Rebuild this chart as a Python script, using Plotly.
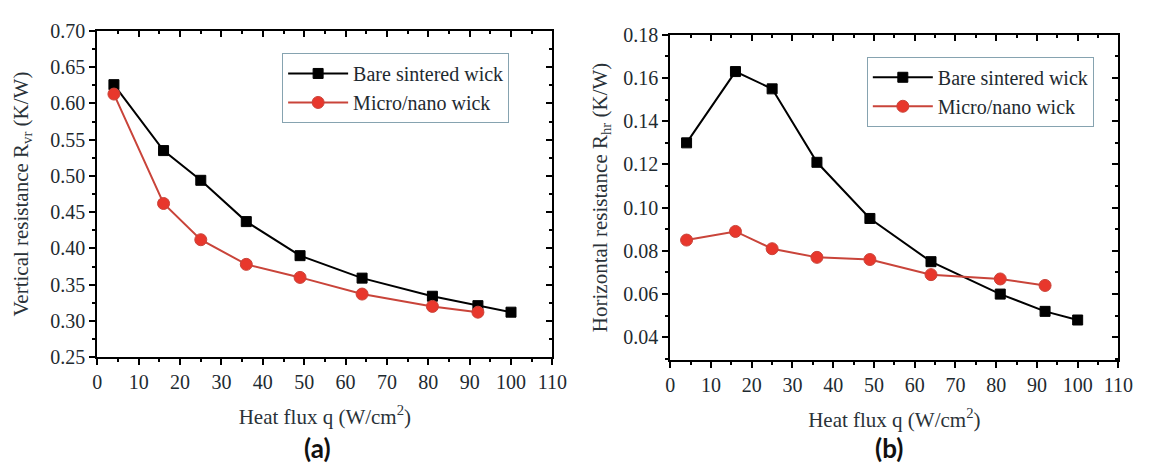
import plotly.graph_objects as go

q_bare = [4, 16, 25, 36, 49, 64, 81, 92, 100]
q_micro = [4, 16, 25, 36, 49, 64, 81, 92]
rv_bare = [0.626, 0.535, 0.494, 0.437, 0.390, 0.359, 0.334, 0.321, 0.312]
rv_micro = [0.613, 0.462, 0.412, 0.378, 0.360, 0.337, 0.320, 0.312]
rh_bare = [0.130, 0.163, 0.155, 0.121, 0.095, 0.075, 0.060, 0.052, 0.048]
rh_micro = [0.085, 0.089, 0.081, 0.077, 0.076, 0.069, 0.067, 0.064]

SERIF = "Liberation Serif"
RED = "#e8372c"
fig = go.Figure()

def add(x, y, name, xa, ya, legend, color, symbol, size, lc):
    fig.add_trace(go.Scatter(x=x, y=y, name=name, xaxis=xa, yaxis=ya, legend=legend,
                             mode="lines+markers",
                             line=dict(color=lc, width=2),
                             marker=dict(symbol=symbol, size=size, color=color,
                                         line=dict(color=lc, width=1))))

add(q_bare, rv_bare, "Bare sintered wick", "x", "y", "legend", "black", "square", 10, "black")
add(q_micro, rv_micro, "Micro/nano wick", "x", "y", "legend", RED, "circle", 12, "#c9443a")
add(q_bare, rh_bare, "Bare sintered wick", "x2", "y2", "legend2", "black", "square", 10, "black")
add(q_micro, rh_micro, "Micro/nano wick", "x2", "y2", "legend2", RED, "circle", 12, "#c9443a")

dom_xa = [94/1156, 557/1156]
dom_xb = [677/1156, 1133/1156]
dom_ya = [1-363/473, 1-21/473]
dom_yb = [1-366/473, 1-25/473]

TICKF = dict(family=SERIF, size=20, color="#1e2a30")
TITLEF = dict(family=SERIF, size=21, color="#2a3238")

def xaxis(dom, anchor):
    return dict(domain=dom, anchor=anchor, range=[0, 110], dtick=10, tick0=0,
                ticks="outside", ticklen=6, tickwidth=1.5, tickcolor="black",
                showline=True, linecolor="black", linewidth=2, mirror=True,
                showgrid=False, zeroline=False, tickfont=TICKF,
                minor=dict(ticks="outside", ticklen=3, dtick=5, tickcolor="black", showgrid=False),
                title=dict(text="Heat flux q (W/cm<sup>2</sup>)", font=TITLEF, standoff=17))

def yaxis(dom, anchor, rng, dt, title, standoff):
    return dict(domain=dom, anchor=anchor, range=rng, dtick=dt, tick0=0,
                ticks="outside", ticklen=6, tickwidth=1.5, tickcolor="black",
                showline=True, linecolor="black", linewidth=2, mirror=True,
                showgrid=False, zeroline=False, tickfont=TICKF, tickformat=".2f",
                minor=dict(ticks="outside", ticklen=3, dtick=dt/2, tickcolor="black", showgrid=False),
                title=dict(text=title, font=TITLEF, standoff=standoff))

def xmirror(dom, anchor, over):
    return dict(domain=dom, anchor=anchor, overlaying=over, side="top", range=[0, 110], dtick=10,
                ticks="inside", ticklen=6, tickwidth=1.5, tickcolor="black", showticklabels=False,
                showgrid=False, zeroline=False, showline=False,
                minor=dict(ticks="inside", ticklen=3, dtick=5, tickcolor="black"))

def ymirror(dom, anchor, over, rng, dt):
    return dict(domain=dom, anchor=anchor, overlaying=over, side="right", range=rng, dtick=dt, tick0=0,
                ticks="inside", ticklen=6, tickwidth=1.5, tickcolor="black", showticklabels=False,
                showgrid=False, zeroline=False, showline=False,
                minor=dict(ticks="inside", ticklen=3, dtick=dt/2, tickcolor="black"))

fig.add_trace(go.Scatter(x=[None], y=[None], xaxis="x3", yaxis="y3", showlegend=False, hoverinfo="skip"))
fig.add_trace(go.Scatter(x=[None], y=[None], xaxis="x4", yaxis="y4", showlegend=False, hoverinfo="skip"))

RY_A = [0.25, 0.70]
RY_B = [0.0295, 0.18]

legfont = dict(family=SERIF, size=20, color="#1e2a30")
fig.update_layout(
    width=1156, height=473, margin=dict(l=0, r=0, t=0, b=0),
    paper_bgcolor="white", plot_bgcolor="white",
    font=dict(family=SERIF, size=20, color="#222"),
    xaxis=xaxis(dom_xa, "y"),
    yaxis=yaxis(dom_ya, "x", RY_A, 0.05, "Vertical resistance R<sub>vr</sub> (K/W)", 16),
    xaxis2=xaxis(dom_xb, "y2"),
    yaxis2=yaxis(dom_yb, "x2", RY_B, 0.02, "Horizontal resistance R<sub>hr</sub> (K/W)", 10),
    xaxis3=xmirror(dom_xa, "y3", "x"),
    yaxis3=ymirror(dom_ya, "x3", "y", RY_A, 0.05),
    xaxis4=xmirror(dom_xb, "y4", "x2"),
    yaxis4=ymirror(dom_yb, "x4", "y2", RY_B, 0.02),
    legend=dict(x=282/1156, y=1-44/473, xanchor="left", yanchor="top", font=legfont,
                bordercolor="#86a3b0", borderwidth=1, bgcolor="white",
                itemwidth=60, tracegroupgap=0),
    legend2=dict(x=877/1156, y=1-48/473, xanchor="left", yanchor="top", font=legfont,
                 bordercolor="#86a3b0", borderwidth=1, bgcolor="white",
                 itemwidth=60, tracegroupgap=0),
    showlegend=True,
)

fig.add_annotation(text="<b>(a)</b>", x=318/1156, y=1-458/473, xref="paper", yref="paper",
                   xanchor="center", yanchor="middle",
                   showarrow=False, font=dict(family="Lato", size=26, color="#111"))
fig.add_annotation(text="<b>(b)</b>", x=900/1156, y=1-458/473, xref="paper", yref="paper",
                   xanchor="center", yanchor="middle",
                   showarrow=False, font=dict(family="Lato", size=26, color="#111"))

fig.write_html("out.html")
